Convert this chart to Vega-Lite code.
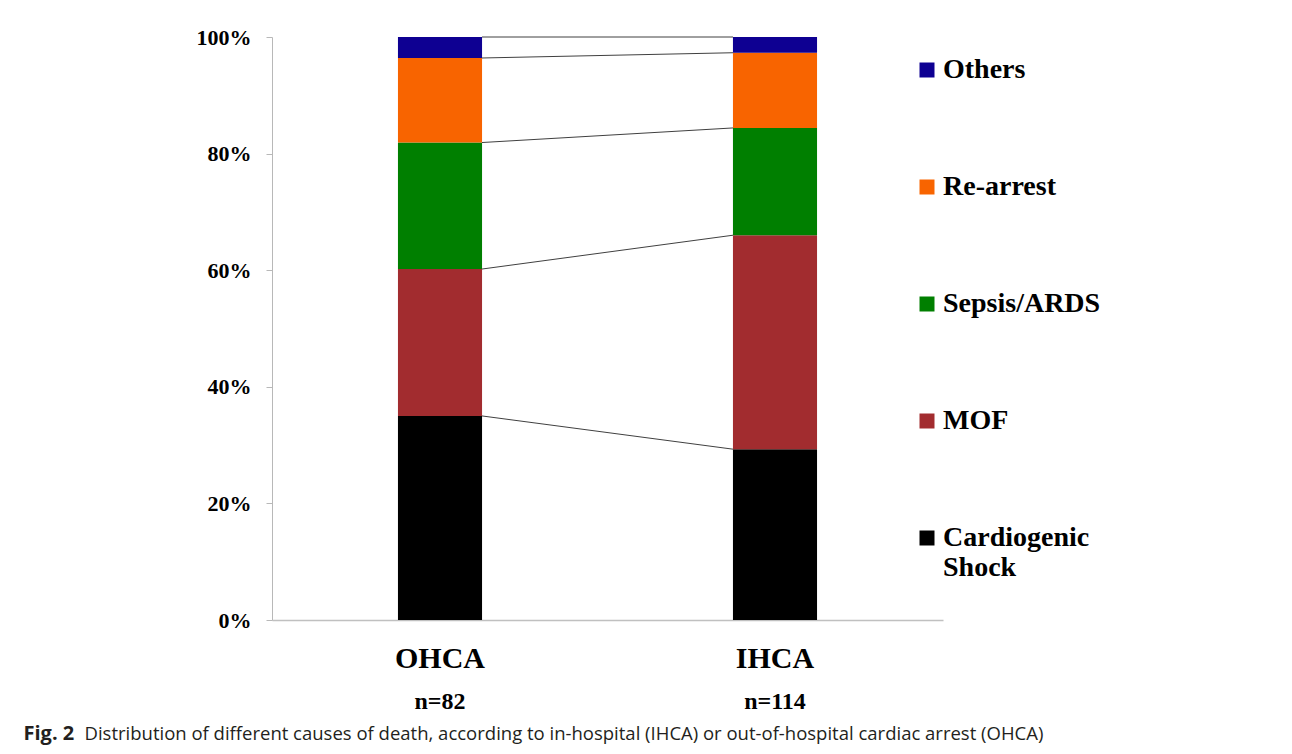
{
  "$schema": "https://vega.github.io/schema/vega-lite/v6.json",
  "width": 671,
  "height": 583,
  "autosize": {"type": "none"},
  "padding": {"left": 272, "top": 37, "right": 349, "bottom": 134},
  "background": "white",
  "config": {"view": {"stroke": null}, "font": "Liberation Serif"},
  "datasets": {
    "causes": [
      {"group": "OHCA", "cause": "Cardiogenic Shock", "rank": 1, "share": 0.350},
      {"group": "OHCA", "cause": "MOF", "rank": 2, "share": 0.252},
      {"group": "OHCA", "cause": "Sepsis/ARDS", "rank": 3, "share": 0.217},
      {"group": "OHCA", "cause": "Re-arrest", "rank": 4, "share": 0.145},
      {"group": "OHCA", "cause": "Others", "rank": 5, "share": 0.036},
      {"group": "IHCA", "cause": "Cardiogenic Shock", "rank": 1, "share": 0.293},
      {"group": "IHCA", "cause": "MOF", "rank": 2, "share": 0.367},
      {"group": "IHCA", "cause": "Sepsis/ARDS", "rank": 3, "share": 0.184},
      {"group": "IHCA", "cause": "Re-arrest", "rank": 4, "share": 0.129},
      {"group": "IHCA", "cause": "Others", "rank": 5, "share": 0.027}
    ],
    "counts": [
      {"group": "OHCA", "label": "n=82"},
      {"group": "IHCA", "label": "n=114"}
    ]
  },
  "layer": [
    {
      "data": {"name": "causes"},
      "mark": {"type": "bar"},
      "encoding": {
        "x": {
          "field": "group",
          "type": "nominal",
          "scale": {"domain": ["OHCA", "IHCA"], "paddingInner": 0.749, "paddingOuter": 0.376, "align": 0.5},
          "axis": {
            "domainColor": "#c0c0c0",
            "domainWidth": 1.5,
            "ticks": false,
            "labelAngle": 0,
            "labelPadding": 47,
            "labelBaseline": "alphabetic",
            "labelFont": "Liberation Serif",
            "labelFontWeight": "bold",
            "labelFontSize": 30,
            "labelColor": "black",
            "title": "Fig. 2",
            "titleX": -249,
            "titleY": 119,
            "titleAlign": "left",
            "titleBaseline": "alphabetic",
            "titleFont": "Open Sans",
            "titleFontSize": 20,
            "titleFontWeight": "bold",
            "titleColor": "#231f20"
          }
        },
        "y": {
          "field": "share",
          "type": "quantitative",
          "stack": "zero",
          "scale": {"domain": [0, 1], "nice": false},
          "axis": {
            "values": [0, 0.2, 0.4, 0.6, 0.8, 1],
            "format": ".0%",
            "grid": false,
            "domainColor": "#b8b8b8",
            "tickColor": "#b8b8b8",
            "tickSize": 6,
            "labelPadding": 15,
            "labelFont": "Liberation Serif",
            "labelFontWeight": "bold",
            "labelFontSize": 22,
            "labelColor": "black",
            "title": "Distribution of different causes of death, according to in-hospital (IHCA) or out-of-hospital cardiac arrest (OHCA)",
            "titleAngle": 0,
            "titleX": -188,
            "titleY": 702,
            "titleAlign": "left",
            "titleBaseline": "alphabetic",
            "titleFont": "Open Sans",
            "titleFontSize": 18.5,
            "titleFontWeight": "normal",
            "titleColor": "#231f20"
          }
        },
        "color": {
          "field": "cause",
          "type": "nominal",
          "scale": {
            "domain": ["Others", "Re-arrest", "Sepsis/ARDS", "MOF", "Cardiogenic Shock"],
            "range": ["#0e0092", "#f86400", "#007f00", "#a22c2f", "#000000"]
          },
          "legend": {
            "orient": "none",
            "legendX": 641,
            "legendY": 19,
            "title": null,
            "padding": 0,
            "symbolType": "square",
            "symbolSize": 225,
            "symbolStrokeWidth": 0,
            "labelFont": "Liberation Serif",
            "labelFontWeight": "bold",
            "labelFontSize": 28,
            "labelColor": "black",
            "labelOffset": 2,
            "labelLimit": 400,
            "rowPadding": 89,
            "labelLineHeight": 36,
            "labelExpr": "datum.label == 'Cardiogenic Shock' ? ['Cardiogenic', 'Shock'] : datum.label"
          }
        },
        "order": {"field": "rank", "type": "quantitative"}
      }
    },
    {
      "data": {"name": "causes"},
      "transform": [
        {"stack": "share", "groupby": ["group"], "sort": [{"field": "rank"}], "as": ["lo", "hi"]},
        {"pivot": "group", "value": "hi", "groupby": ["cause"]}
      ],
      "mark": {"type": "rule", "color": "#404040", "strokeWidth": 1, "xOffset": 42, "x2Offset": -42},
      "encoding": {
        "x": {"datum": "OHCA"},
        "x2": {"datum": "IHCA"},
        "y": {"field": "OHCA", "type": "quantitative"},
        "y2": {"field": "IHCA"}
      }
    },
    {
      "data": {"name": "counts"},
      "mark": {"type": "text", "dy": 89, "baseline": "alphabetic", "font": "Liberation Serif", "fontWeight": "bold", "fontSize": 24, "color": "black"},
      "encoding": {
        "x": {"field": "group", "type": "nominal"},
        "y": {"datum": 0},
        "text": {"field": "label"}
      }
    }
  ]
}
